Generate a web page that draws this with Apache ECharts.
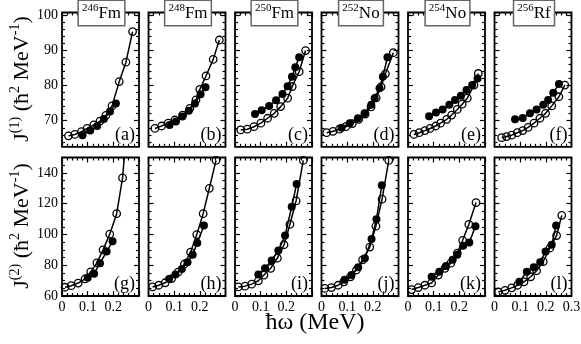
<!DOCTYPE html>
<html>
<head>
<meta charset="utf-8">
<title>Moments of inertia J(1) and J(2)</title>
<script src="https://cdn.jsdelivr.net/npm/echarts@6.0.0/dist/echarts.min.js"></script>
<style>
  html, body { margin: 0; padding: 0; background: #fff; }
  #chart { width: 581px; height: 344px; }
</style>
</head>
<body>
<div id="chart"></div>
<script>
// nuclei shown in the six columns
const massNumbers = ['246', '248', '250', '252', '254', '256'];
const elements = ['Fm', 'Fm', 'Fm', 'No', 'No', 'Rf'];
const panelLetters = ['a', 'b', 'c', 'd', 'e', 'f', 'g', 'h', 'i', 'j', 'k', 'l'];

// ticks
const xMajor = [0, 0.1, 0.2, 0.3];
const xMinor = [0.02, 0.04, 0.06, 0.08, 0.12, 0.14, 0.16, 0.18, 0.22, 0.24, 0.26, 0.28];
const xLabels = [0, 0.1, 0.2];
const xLabelsLast = [0, 0.1, 0.2, 0.3];
const j1Major = [70, 80, 90, 100];
const j1Minor = [64, 66, 68, 72, 74, 76, 78, 82, 84, 86, 88, 92, 94, 96, 98];
const j2Major = [60, 80, 100, 120, 140];
const j2Minor = [65, 70, 75, 85, 90, 95, 105, 110, 115, 125, 130, 135, 145];

// J(1): [hbar omega (MeV), J]  -- open = calc (line), filled = exp
const fm246J1Calc = [[0.025,65.7],[0.05,66.1],[0.076,66.9],[0.098,67.8],[0.124,68.8],[0.148,69.9],[0.171,71.5],[0.195,74.2],[0.223,81.1],[0.249,86.6],[0.275,95.3]];
const fm246J1Exp  = [[0.08,65.9],[0.11,67.2],[0.137,68.5],[0.163,70.5],[0.187,72.6],[0.21,74.9]];
const fm248J1Calc = [[0.025,67.8],[0.051,68.5],[0.077,69.3],[0.103,70.2],[0.133,71.6],[0.161,73.5],[0.185,75.9],[0.2,78.9],[0.224,82.7],[0.252,87.4],[0.276,92.9]];
const fm248J1Exp  = [[0.082,68.8],[0.107,69.8],[0.132,71.2],[0.157,72.8],[0.181,74.9],[0.203,77.5],[0.222,79.5]];
const fm250J1Calc = [[0.022,67.4],[0.048,67.6],[0.074,68.3],[0.101,69.3],[0.127,70.7],[0.153,72.1],[0.178,74.0],[0.205,76.4],[0.223,79.7],[0.25,83.9],[0.275,89.9]];
const fm250J1Exp  = [[0.078,71.9],[0.104,73.0],[0.133,74.2],[0.16,75.8],[0.185,77.6],[0.205,79.8],[0.222,82.5],[0.235,85.2],[0.25,88.0]];
const no252J1Calc = [[0.02,66.6],[0.045,67.0],[0.07,67.6],[0.095,68.3],[0.12,69.2],[0.145,70.4],[0.17,71.9],[0.193,73.9],[0.213,76.5],[0.232,79.6],[0.249,83.3],[0.28,89.3]];
const no252J1Exp  = [[0.078,68.0],[0.11,69.3],[0.142,70.7],[0.168,72.1],[0.194,74.5],[0.207,76.4],[0.226,79.2],[0.239,82.5],[0.257,88.0]];
const no254J1Calc = [[0.023,66.1],[0.044,66.6],[0.066,67.2],[0.086,67.8],[0.108,68.5],[0.127,69.3],[0.151,70.4],[0.17,71.6],[0.192,73.2],[0.211,74.7],[0.231,76.4],[0.257,80.1],[0.274,83.4]];
const no254J1Exp  = [[0.082,71.3],[0.109,72.3],[0.135,73.2],[0.161,74.5],[0.183,75.9],[0.206,77.1],[0.228,78.7],[0.25,80.1],[0.271,82.0]];
const rf256J1Calc = [[0.028,65.2],[0.047,65.5],[0.067,65.9],[0.089,66.6],[0.11,67.2],[0.131,68.1],[0.154,69.3],[0.177,70.7],[0.199,72.1],[0.223,74.2],[0.251,76.8],[0.274,80.1]];
const rf256J1Exp  = [[0.08,70.4],[0.11,70.8],[0.138,72.1],[0.164,73.2],[0.19,74.5],[0.209,75.9],[0.229,77.9],[0.251,80.4]];

// J(2)
const fm246J2Calc = [[0.012,65.7],[0.036,66.7],[0.063,68.4],[0.09,71.1],[0.112,75.7],[0.136,81.5],[0.16,90.0],[0.186,100.2],[0.213,113.5],[0.236,136.7],[0.26,185]];
const fm246J2Exp  = [[0.1,71.8],[0.125,74.5],[0.148,81.3],[0.174,88.9],[0.197,95.5]];
const fm248J2Calc = [[0.016,65.9],[0.04,67.0],[0.065,68.6],[0.09,71.3],[0.115,75.5],[0.14,80.8],[0.164,88.5],[0.188,99.9],[0.213,113.5],[0.237,130],[0.263,148.1]];
const fm248J2Exp  = [[0.08,71.0],[0.105,74.0],[0.13,77.5],[0.152,82.0],[0.172,86.8],[0.19,94.4],[0.216,105.8]];
const fm250J2Calc = [[0.013,65.9],[0.039,66.4],[0.065,67.7],[0.091,69.9],[0.113,73.6],[0.139,78.0],[0.165,84.6],[0.191,93.3],[0.214,106.5],[0.238,121.8],[0.266,148.1]];
const fm250J2Exp  = [[0.091,74.0],[0.117,78.0],[0.143,83.0],[0.169,89.6],[0.195,99.3],[0.221,118],[0.24,132.8]];
const no252J2Calc = [[0.013,64.9],[0.039,65.5],[0.065,67.0],[0.087,69.2],[0.113,72.5],[0.136,76.9],[0.16,83.5],[0.188,91.8],[0.212,105.4],[0.236,122.9],[0.262,148.1]];
const no252J2Exp  = [[0.09,70.5],[0.117,73.6],[0.143,78.7],[0.169,84.6],[0.195,97.1],[0.214,109.8],[0.235,132]];
const no254J2Calc = [[0.014,64.2],[0.04,65.5],[0.066,67.0],[0.092,68.5],[0.118,73.6],[0.144,78.0],[0.167,81.3],[0.192,87.9],[0.213,96.2],[0.237,106.5],[0.265,120.7]];
const no254J2Exp  = [[0.092,72.5],[0.122,75.8],[0.148,79.5],[0.174,83.5],[0.192,86.8],[0.215,92.7],[0.239,94.8],[0.263,105.4]];
const rf256J2Calc = [[0.015,62.6],[0.041,63.7],[0.067,65.3],[0.09,67.0],[0.115,69.2],[0.141,72.5],[0.164,76.4],[0.19,82.4],[0.216,91.2],[0.242,99.3],[0.262,112.4]];
const rf256J2Exp  = [[0.097,69.2],[0.126,75.8],[0.153,78.7],[0.178,82.0],[0.199,88.9],[0.223,93.3],[0.24,105.8]];

const calcSets = [fm246J1Calc, fm248J1Calc, fm250J1Calc, no252J1Calc, no254J1Calc, rf256J1Calc,
                  fm246J2Calc, fm248J2Calc, fm250J2Calc, no252J2Calc, no254J2Calc, rf256J2Calc];
const expSets  = [fm246J1Exp, fm248J1Exp, fm250J1Exp, no252J1Exp, no254J1Exp, rf256J1Exp,
                  fm246J2Exp, fm248J2Exp, fm250J2Exp, no252J2Exp, no254J2Exp, rf256J2Exp];

const FONT = '"Liberation Serif", "DejaVu Serif", serif';
const colLeft = [62, 148.5, 235, 321.5, 408, 494.5];
const panelW = 77;
const rowTop = [12.5, 157.5];
const rowH = [134.3, 138.5];
const yRange = [[62.6, 100.7], [60, 150]];

function fmtX(v) {
  return v === 0 ? '0' : v.toFixed(1);
}

// one axis per tick set; onZero off so every axis stays on its own edge
function xAxisOf(g, pos, major, labels) {
  return {
    type: 'value', gridIndex: g, position: pos, min: 0, max: 0.3,
    axisLine: { show: false, onZero: false },
    splitLine: { show: false },
    axisTick: { show: true, inside: true, length: major ? 5 : 3,
      customValues: major ? xMajor : xMinor,
      lineStyle: { color: '#000', width: 1.2 } },
    axisLabel: labels ? { show: true, customValues: labels, formatter: fmtX, margin: 4,
      fontFamily: FONT, fontSize: 14, color: '#000' } : { show: false }
  };
}

function yAxisOf(g, r, pos, major, labels) {
  return {
    type: 'value', gridIndex: g, position: pos, min: yRange[r][0], max: yRange[r][1],
    axisLine: { show: false, onZero: false },
    splitLine: { show: false },
    axisTick: { show: true, inside: true, length: major ? 5 : 3,
      customValues: major ? (r === 0 ? j1Major : j2Major) : (r === 0 ? j1Minor : j2Minor),
      lineStyle: { color: '#000', width: 1.2 } },
    axisLabel: labels ? { show: true, customValues: labels, margin: 4,
      fontFamily: FONT, fontSize: 14, color: '#000' } : { show: false }
  };
}

const grids = [], xAxes = [], yAxes = [], series = [], graphics = [];

for (let g = 0; g < 12; g++) {
  const r = g < 6 ? 0 : 1;
  const c = g % 6;
  grids.push({
    left: colLeft[c], top: rowTop[r], width: panelW, height: rowH[r],
    show: true, borderColor: '#000', borderWidth: 1.8, backgroundColor: 'transparent',
    outerBoundsMode: 'none'
  });
  const xl = r === 1 ? (c === 5 ? xLabelsLast : xLabels) : null;
  xAxes.push(xAxisOf(g, 'bottom', true, xl));
  xAxes.push(xAxisOf(g, 'bottom', false, null));
  xAxes.push(xAxisOf(g, 'top', true, null));
  xAxes.push(xAxisOf(g, 'top', false, null));
  const yl = c === 0 ? (r === 0 ? j1Major : j2Major) : null;
  yAxes.push(yAxisOf(g, r, 'left', true, yl));
  yAxes.push(yAxisOf(g, r, 'left', false, null));
  yAxes.push(yAxisOf(g, r, 'right', true, null));
  yAxes.push(yAxisOf(g, r, 'right', false, null));

  series.push({
    type: 'line', xAxisIndex: 4 * g, yAxisIndex: 4 * g, data: calcSets[g],
    symbol: 'circle', symbolSize: 7.5, clip: true, silent: true, z: 3,
    itemStyle: { color: 'rgba(0,0,0,0)', borderColor: '#000', borderWidth: 1.3 },
    lineStyle: { color: '#000', width: 1.5 }
  });
  series.push({
    type: 'line', xAxisIndex: 4 * g, yAxisIndex: 4 * g, data: expSets[g],
    symbol: 'circle', symbolSize: 8, clip: true, silent: true, z: 4,
    itemStyle: { color: '#000', borderColor: '#000', borderWidth: 0 },
    lineStyle: { color: '#000', width: 1.5 }
  });

  // panel letter
  graphics.push({
    type: 'text', z: 50,
    x: colLeft[c] + panelW - 4, y: rowTop[r] + rowH[r] - 3,
    style: { text: '(' + panelLetters[g] + ')', fontFamily: FONT, fontSize: 18,
      fill: '#000', align: 'right', verticalAlign: 'bottom' }
  });
}

// nucleus boxes
for (let c = 0; c < 6; c++) {
  graphics.push({
    type: 'text', z: 60,
    x: colLeft[c] + panelW / 2 + 1, y: 1,
    style: {
      text: '{s|' + massNumbers[c] + '}{m|' + elements[c] + '}',
      align: 'center', verticalAlign: 'top',
      backgroundColor: '#fff', borderColor: '#666', borderWidth: 1.5,
      padding: [2, 3, 1, 3],
      rich: {
        s: { fontFamily: FONT, fontSize: 11, lineHeight: 12, verticalAlign: 'top', fill: '#000' },
        m: { fontFamily: FONT, fontSize: 17, lineHeight: 21, fill: '#000' }
      }
    }
  });
}

// axis titles
const yTitleRich = {
  b: { fontFamily: FONT, fontSize: 22, lineHeight: 28, fill: '#000' },
  s: { fontFamily: FONT, fontSize: 14, lineHeight: 14, verticalAlign: 'top', fill: '#000' }
};
graphics.push({
  type: 'text', z: 50, x: 22, y: 79, rotation: Math.PI / 2,
  style: { text: '{b|J}{s|(1)}{b| (ħ}{s|2}{b| MeV}{s|-1}{b|)}', rich: yTitleRich,
    align: 'center', verticalAlign: 'middle' }
});
graphics.push({
  type: 'text', z: 50, x: 22, y: 226, rotation: Math.PI / 2,
  style: { text: '{b|J}{s|(2)}{b| (ħ}{s|2}{b| MeV}{s|-1}{b|)}', rich: yTitleRich,
    align: 'center', verticalAlign: 'middle' }
});
graphics.push({
  type: 'text', z: 50, x: 315, y: 323,
  style: { text: 'ħω (MeV)', fontFamily: FONT, fontSize: 24, fill: '#000',
    align: 'center', verticalAlign: 'middle' }
});

const chart = echarts.init(document.getElementById('chart'), null, { renderer: 'canvas' });
chart.setOption({
  animation: false,
  backgroundColor: '#fff',
  grid: grids,
  xAxis: xAxes,
  yAxis: yAxes,
  series: series,
  graphic: graphics
});
</script>
</body>
</html>
